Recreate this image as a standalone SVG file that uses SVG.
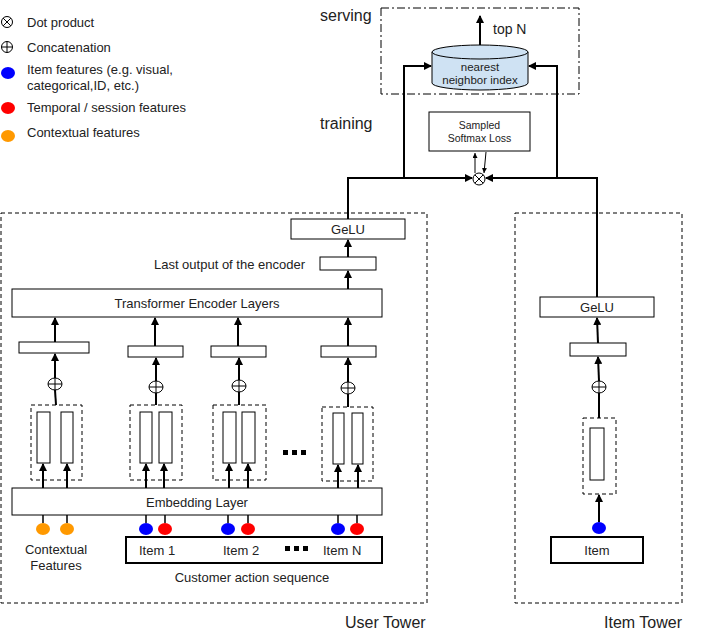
<svg xmlns="http://www.w3.org/2000/svg" width="701" height="639" viewBox="0 0 701 639">
<defs>
<marker id="ah" markerWidth="8" markerHeight="8" refX="7" refY="4" orient="auto" markerUnits="userSpaceOnUse" viewBox="0 0 8 8"><path d="M0,0 L8,4 L0,8 Z" fill="#000"/></marker>
<marker id="ahs" markerWidth="5" markerHeight="5" refX="5" refY="2.5" orient="auto" markerUnits="userSpaceOnUse" viewBox="0 0 5 5"><path d="M0,0 L5,2.5 L0,5 Z" fill="#000"/></marker>
<style>
text{font-family:"Liberation Sans",Arial,sans-serif;fill:#222}
.box{fill:#fff;stroke:#000;stroke-width:1}
.thick{fill:#fff;stroke:#000;stroke-width:2}
.dash{fill:none;stroke:#000;stroke-width:1;stroke-dasharray:4,3}
.dashdot{fill:none;stroke:#000;stroke-width:1;stroke-dasharray:8,3,2,3}
.ln{fill:none;stroke:#000;stroke-width:2}
.arr{fill:none;stroke:#000;stroke-width:2;marker-end:url(#ah)}
.thin{fill:none;stroke:#000;stroke-width:1;marker-end:url(#ahs)}
.sym{fill:#fff;stroke:#000;stroke-width:1}
.t13{font-size:13px}
.t12{font-size:13px}
.t15{font-size:16px}
.t10{font-size:10.5px}
.t11{font-size:11.5px}
.blue{fill:#0000ff}
.red{fill:#ff0000}
.orange{fill:#ff9900}
</style>
</defs>
<rect width="701" height="639" fill="#fff"/>

<g id="legend">
<circle cx="7" cy="22" r="5.5" class="sym"/><path d="M3.1,18.1 L10.9,25.9 M10.9,18.1 L3.1,25.9" stroke="#000" stroke-width="1"/>
<text x="27" y="27" class="t13">Dot product</text>
<circle cx="7" cy="47" r="5.5" class="sym"/><path d="M1.5,47 L12.5,47 M7,41.5 L7,52.5" stroke="#000" stroke-width="1"/>
<text x="27" y="52" class="t13">Concatenation</text>
<ellipse cx="8" cy="73" rx="7" ry="6" class="blue"/>
<text x="27" y="74" class="t13">Item features (e.g. visual,</text>
<text x="27" y="90" class="t13">categorical,ID, etc.)</text>
<ellipse cx="8" cy="108" rx="7" ry="6" class="red"/>
<text x="27" y="112" class="t13">Temporal / session features</text>
<ellipse cx="8" cy="136" rx="7" ry="6" class="orange"/>
<text x="27" y="137" class="t13">Contextual features</text>
</g>

<g id="serving">
<rect x="381" y="8" width="198" height="86" class="dashdot"/>
<text x="320" y="21" class="t15">serving</text>
</g>
<text x="320" y="129" class="t15">training</text>

<g id="nn-index">
<path d="M432,52 L432,83 A48,7 0 0 0 528,83 L528,52" fill="#cfe2f3" stroke="#000" stroke-width="1"/>
<ellipse cx="480" cy="52" rx="48" ry="7" fill="#cfe2f3" stroke="#000" stroke-width="1"/>
<text x="480" y="71" class="t11" text-anchor="middle">nearest</text>
<text x="480" y="84" class="t11" text-anchor="middle">neighbor index</text>
</g>
<text x="493" y="34" font-size="14">top N</text>

<g id="loss">
<rect x="429" y="112" width="101" height="39" class="box"/>
<text x="479.5" y="129" class="t10" text-anchor="middle">Sampled</text>
<text x="479.5" y="142" class="t10" text-anchor="middle">Softmax Loss</text>
</g>

<g id="dot">
<circle cx="479" cy="179" r="6" class="sym"/><path d="M474.8,174.8 L483.2,183.2 M483.2,174.8 L474.8,183.2" stroke="#000" stroke-width="1"/>
</g>

<g id="user-tower">
<rect x="1" y="213" width="426" height="390" class="dash"/>
<text x="345" y="628" class="t15">User Tower</text>
</g>
<g id="item-tower">
<rect x="515" y="213" width="167" height="390" class="dash"/>
<text x="604" y="628" class="t15">Item Tower</text>
</g>

<g id="user-gelu"><rect x="291" y="219" width="114" height="20" class="box"/><text x="348" y="234" class="t12" text-anchor="middle">GeLU</text></g>
<g id="last-output"><rect x="320" y="257" width="56" height="13" class="box"/><text x="305" y="269" class="t12" text-anchor="end">Last output of the encoder</text></g>
<g id="transformer"><rect x="12" y="289" width="370" height="28" class="box"/><text x="197" y="308" class="t12" text-anchor="middle">Transformer Encoder Layers</text></g>

<g id="vec1"><rect x="19" y="342" width="70" height="11" class="box"/></g>
<g id="vec2"><rect x="128" y="346" width="55" height="11" class="box"/></g>
<g id="vec3"><rect x="211" y="346" width="55" height="11" class="box"/></g>
<g id="vec4"><rect x="321" y="346" width="55" height="11" class="box"/></g>

<g id="concat1"><ellipse cx="55" cy="384" rx="7" ry="6" class="sym"/><path d="M48,384 L62,384 M55,378 L55,390" stroke="#000" stroke-width="1"/></g>
<g id="concat2"><ellipse cx="156" cy="387" rx="7" ry="6" class="sym"/><path d="M149,387 L163,387 M156,381 L156,393" stroke="#000" stroke-width="1"/></g>
<g id="concat3"><ellipse cx="239" cy="386" rx="7" ry="6" class="sym"/><path d="M232,386 L246,386 M239,380 L239,392" stroke="#000" stroke-width="1"/></g>
<g id="concat4"><ellipse cx="348" cy="388" rx="7" ry="6" class="sym"/><path d="M341,388 L355,388 M348,382 L348,394" stroke="#000" stroke-width="1"/></g>

<g id="emb-group1"><rect x="31" y="405" width="51" height="75" class="dash"/><rect x="37" y="412" width="13" height="51" class="box"/><rect x="61" y="412" width="12" height="51" class="box"/></g>
<g id="emb-group2"><rect x="130" y="405" width="52" height="75" class="dash"/><rect x="140" y="412" width="12" height="51" class="box"/><rect x="159" y="412" width="13" height="51" class="box"/></g>
<g id="emb-group3"><rect x="213" y="405" width="53" height="75" class="dash"/><rect x="223" y="412" width="13" height="51" class="box"/><rect x="242" y="412" width="13" height="51" class="box"/></g>
<g id="emb-group4"><rect x="322" y="407" width="51" height="74" class="dash"/><rect x="333" y="413" width="11" height="51" class="box"/><rect x="352" y="413" width="11" height="51" class="box"/></g>

<g id="ellipsis1" fill="#000"><rect x="283" y="450" width="5" height="5"/><rect x="292" y="450" width="5" height="5"/><rect x="301" y="450" width="5" height="5"/></g>

<g id="embedding"><rect x="12" y="488" width="370" height="27" class="box"/><text x="197" y="507" class="t12" text-anchor="middle">Embedding Layer</text></g>

<g id="feature-dots">
<ellipse cx="43" cy="529" rx="7" ry="6" class="orange"/><ellipse cx="67" cy="529" rx="7" ry="6" class="orange"/>
<ellipse cx="146" cy="529" rx="7" ry="6" class="blue"/><ellipse cx="165" cy="529" rx="7" ry="6" class="red"/>
<ellipse cx="228" cy="529" rx="7" ry="6" class="blue"/><ellipse cx="248" cy="529" rx="7" ry="6" class="red"/>
<ellipse cx="338" cy="529" rx="7" ry="6" class="blue"/><ellipse cx="357" cy="529" rx="7" ry="6" class="red"/>
</g>
<g id="contextual-label"><text x="56" y="554" class="t12" text-anchor="middle">Contextual</text><text x="56" y="570" class="t12" text-anchor="middle">Features</text></g>

<g id="sequence">
<rect x="126" y="537" width="256" height="26" class="thick"/>
<text x="139" y="555" class="t12">Item 1</text>
<text x="223" y="555" class="t12">Item 2</text>
<text x="323" y="555" class="t12">Item N</text>
<g fill="#000"><rect x="285" y="546" width="5" height="5"/><rect x="294" y="546" width="5" height="5"/><rect x="303" y="546" width="5" height="5"/></g>
<text x="252" y="582" class="t12" text-anchor="middle">Customer action sequence</text>
</g>

<g id="item-gelu"><rect x="540" y="297" width="114" height="20" class="box"/><text x="597" y="312" class="t12" text-anchor="middle">GeLU</text></g>
<g id="item-vec"><rect x="570" y="343" width="56" height="13" class="box"/></g>
<g id="item-concat"><ellipse cx="599" cy="387" rx="7" ry="6" class="sym"/><path d="M592,387 L606,387 M599,381 L599,393" stroke="#000" stroke-width="1"/></g>
<g id="item-emb"><rect x="583" y="418" width="33" height="76" class="dash"/><rect x="590" y="428" width="14" height="52" class="box"/></g>
<ellipse cx="599" cy="528" rx="7" ry="6" class="blue"/>
<g id="item-box"><rect x="551" y="537" width="92" height="26" class="thick"/><text x="597" y="555" class="t12" text-anchor="middle">Item</text></g>

<g id="connectors">
<path d="M480,45 L480,16" class="arr"/>
<path d="M404,178 L404,66 L431,66" class="arr"/>
<path d="M557,178 L557,66 L529,66" class="arr"/>
<path d="M348,219 L348,178 L472,178" class="arr"/>
<path d="M597,297 L597,178 L486,178" class="arr"/>
<path d="M475,173 L475,153" class="thin"/>
<path d="M486,152 L484,173" class="thin"/>
<path d="M348,257 L348,240" class="arr"/>
<path d="M348,289 L348,271" class="arr"/>
<path d="M55,342 L55,318" class="arr"/>
<path d="M155,346 L155,318" class="arr"/>
<path d="M238,346 L238,318" class="arr"/>
<path d="M348,346 L348,318" class="arr"/>
<path d="M55,378 L55,354" class="arr"/>
<path d="M156,381 L156,358" class="arr"/>
<path d="M239,380 L239,358" class="arr"/>
<path d="M348,382 L348,358" class="arr"/>
<path d="M56,405 L55,390" class="ln"/>
<path d="M156,405 L156,393" class="ln"/>
<path d="M239,405 L239,392" class="ln"/>
<path d="M348,407 L348,394" class="ln"/>
<path d="M43,488 L43,464" class="arr"/>
<path d="M67,488 L67,464" class="arr"/>
<path d="M146,488 L146,464" class="arr"/>
<path d="M164,488 L164,464" class="arr"/>
<path d="M229,488 L229,464" class="arr"/>
<path d="M248,488 L248,464" class="arr"/>
<path d="M338,488 L338,465" class="arr"/>
<path d="M358,488 L358,465" class="arr"/>
<path d="M43,515 L43,523 M67,515 L67,523 M146,515 L146,523 M165,515 L165,523 M228,515 L228,523 M248,515 L248,523 M338,515 L338,523 M357,515 L357,523" stroke="#000" stroke-width="1.5" fill="none"/>
<path d="M598,343 L597,318" class="arr"/>
<path d="M599,381 L598,357" class="arr"/>
<path d="M599,418 L599,393" class="ln"/>
<path d="M599,522 L599,495" class="arr"/>
</g>
</svg>
